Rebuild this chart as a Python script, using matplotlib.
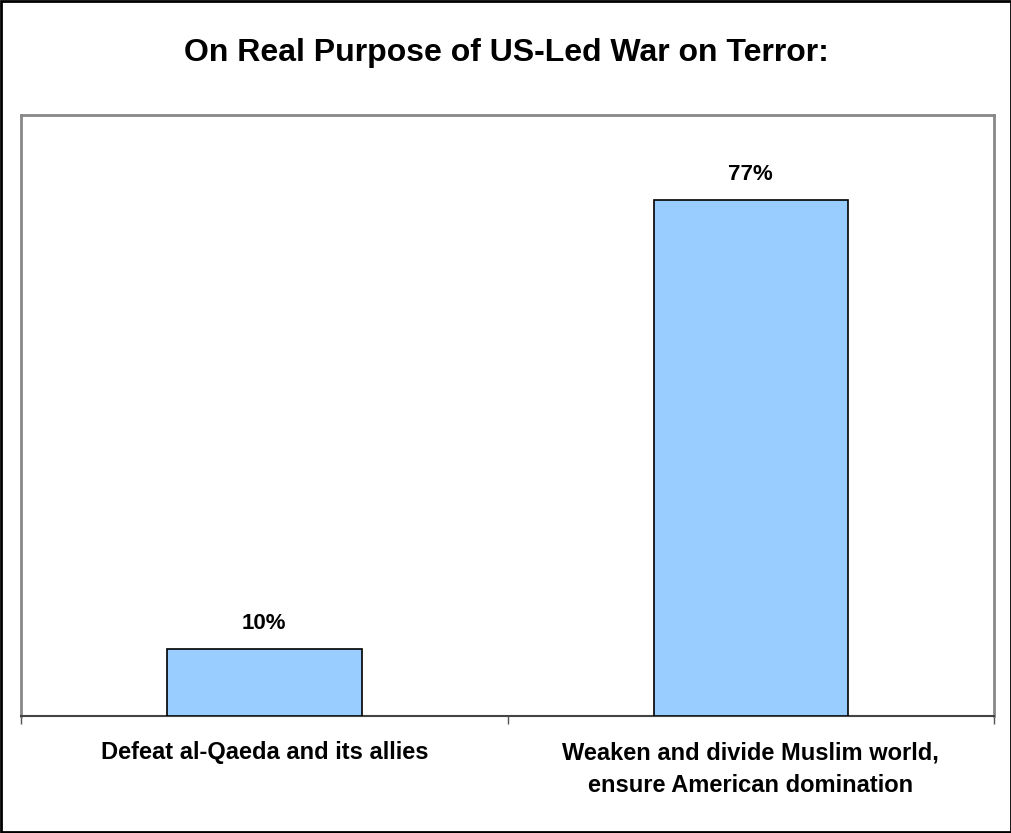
import numpy as np
import matplotlib.pyplot as plt
from matplotlib.patches import Rectangle

plt.rcParams['font.family'] = ['Liberation Sans', 'DejaVu Sans']

categories = ['Defeat al-Qaeda and its allies',
              'Weaken and divide Muslim world,\nensure American domination']
values = [10, 77]
value_labels = ['10%', '77%']

fig = plt.figure(figsize=(10.12, 8.33), dpi=100)
fig.patches.append(Rectangle((0.001, 0.001), 0.998, 0.998, transform=fig.transFigure,
                             fill=False, edgecolor='black', linewidth=2))

ax = fig.add_axes([0.0208, 0.1405, 0.9615, 0.7214])
x = np.arange(len(values))
bars = ax.bar(x, values, width=0.4, color='#99ccff', edgecolor='black', linewidth=1.2, zorder=3)

for xi, v, lab in zip(x, values, value_labels):
    ax.text(xi, v + 3.0, lab, ha='center', va='baseline', fontsize=16, fontweight='bold')

ax.set_xlim(-0.5, 1.5)
ax.set_ylim(0, 89.7)
ax.set_yticks([])
ax.set_xticks([-0.5, 0.5, 1.5])
ax.set_xticklabels([])
ax.tick_params(axis='x', length=6, width=1, color='#555555', direction='out')

for side in ['top', 'left', 'right']:
    ax.spines[side].set_color('#888888')
    ax.spines[side].set_linewidth(2)
ax.spines['bottom'].set_color('#444444')
ax.spines['bottom'].set_linewidth(1.5)

for xi, c in zip(x, categories):
    ax.text(xi, -3.8, c, ha='center', va='top', fontsize=17, fontweight='bold',
            linespacing=1.55)

fig.text(0.5, 0.9268, 'On Real Purpose of US-Led War on Terror:', ha='center', va='baseline',
         fontsize=23, fontweight='bold')

fig.savefig('out.png', dpi=100)
